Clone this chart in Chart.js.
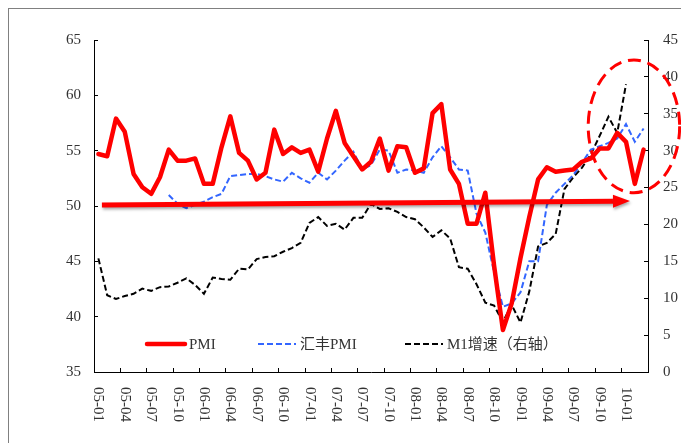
<!DOCTYPE html>
<html>
<head>
<meta charset="utf-8">
<script src="https://cdn.jsdelivr.net/npm/chart.js@4.4.0/dist/chart.umd.min.js"></script>
<style>
  html, body { margin: 0; padding: 0; background: #fff; overflow: hidden; }
  #wrap { position: relative; width: 681px; height: 443px; }
  #frame { position: absolute; left: 8px; top: 8px; width: 720px; height: 480px;
           border-top: 1px solid #808080; border-left: 1px solid #808080; pointer-events: none; }
</style>
</head>
<body>
<div id="wrap">
  <canvas id="chart" width="681" height="443"></canvas>
  <div id="frame"></div>
</div>
<script>
// monthly categories, 2005-01 .. 2010-03
var months = [
  "05-01","05-02","05-03","05-04","05-05","05-06","05-07","05-08","05-09","05-10","05-11","05-12",
  "06-01","06-02","06-03","06-04","06-05","06-06","06-07","06-08","06-09","06-10","06-11","06-12",
  "07-01","07-02","07-03","07-04","07-05","07-06","07-07","07-08","07-09","07-10","07-11","07-12",
  "08-01","08-02","08-03","08-04","08-05","08-06","08-07","08-08","08-09","08-10","08-11","08-12",
  "09-01","09-02","09-03","09-04","09-05","09-06","09-07","09-08","09-09","09-10","09-11","09-12",
  "10-01","10-02","10-03"
];

var pmi = [
  54.7,54.5,57.9,56.7,52.9,51.7,51.1,52.6,55.1,54.1,54.1,54.3,
  52.0,52.0,55.3,58.1,54.8,54.1,52.4,53.0,56.9,54.7,55.3,54.8,
  55.1,53.1,56.1,58.6,55.7,54.5,53.3,54.0,56.1,53.2,55.4,55.3,
  53.0,53.4,58.4,59.2,53.3,52.0,48.4,48.4,51.2,44.6,38.8,41.2,
  45.3,49.0,52.4,53.5,53.1,53.2,53.3,54.0,54.3,55.2,55.2,56.6,
  55.8,52.0,55.1
];

var hsbcPmi = [
  null,null,null,null,null,null,null,null,51.0,50.2,49.8,50.1,
  50.4,50.8,51.1,52.7,52.8,52.9,52.9,52.7,52.4,52.2,53.0,52.5,
  52.1,53.0,52.4,53.2,54.1,54.9,53.3,53.7,55.1,55.0,53.0,53.3,
  53.2,53.0,54.4,55.4,54.4,53.3,53.2,49.3,47.6,44.0,40.9,41.2,
  42.2,45.0,45.0,50.1,51.2,52.0,52.8,53.9,55.1,55.4,55.7,56.1,
  57.4,55.8,57.0
];

var m1Growth = [
  15.4,10.4,9.9,10.3,10.6,11.3,11.0,11.5,11.6,12.1,12.7,11.8,
  10.6,12.8,12.6,12.5,14.0,13.9,15.3,15.6,15.7,16.3,16.8,17.5,
  20.2,21.0,19.8,20.1,19.3,20.9,20.9,22.8,22.1,22.2,21.7,21.0,
  20.7,19.6,18.3,19.2,18.1,14.2,14.0,11.9,9.4,9.0,6.8,9.1,
  6.7,10.9,17.0,17.5,18.7,24.8,26.4,27.7,29.5,32.0,34.6,32.4,
  39.0,null,null
];

var leftRange = [35, 65];
var rightRange = [0, 45];
var tickStep = 5;

// annotations: [category index, left axis value]
var arrowFrom = [0.4, 50.1];
var arrowTo = [60.45, 50.45];
var ringCenter = [60.9, 57.2];
var ringRadius = [5.2, 6.0];

var fontFamily = "'Liberation Serif', 'Noto Sans CJK SC', serif";
var textColor = "#333";

var innerLegend = {
  id: "innerLegend",
  afterDatasetsDraw: function(chart) {
    var ctx = chart.ctx;
    var y = 344;
    var starts = [147, 258, 405];
    chart.data.datasets.forEach(function(ds, i) {
      var x = starts[i];
      ctx.save();
      ctx.strokeStyle = ds.borderColor;
      ctx.lineWidth = ds.borderWidth;
      ctx.setLineDash(ds.borderDash || []);
      ctx.lineCap = ds.borderDash ? "butt" : "round";
      ctx.beginPath();
      ctx.moveTo(x, y);
      ctx.lineTo(x + 38, y);
      ctx.stroke();
      ctx.setLineDash([]);
      ctx.fillStyle = textColor;
      ctx.font = "15px " + fontFamily;
      ctx.textBaseline = "middle";
      ctx.fillText(ds.label, x + 42, y + 1);
      ctx.restore();
    });
  }
};

var marks = {
  id: "marks",
  afterDatasetsDraw: function(chart) {
    var ctx = chart.ctx;
    var xs = chart.scales.x, ys = chart.scales.y;
    ctx.save();

    // trend arrow
    var x1 = xs.getPixelForValue(arrowFrom[0]), y1 = ys.getPixelForValue(arrowFrom[1]);
    var x2 = xs.getPixelForValue(arrowTo[0]), y2 = ys.getPixelForValue(arrowTo[1]);
    var ang = Math.atan2(y2 - y1, x2 - x1);
    var head = 17, half = 6.5;
    var bx = x2 - head * Math.cos(ang), by = y2 - head * Math.sin(ang);
    ctx.shadowColor = "rgba(0,0,0,0.35)";
    ctx.shadowBlur = 3;
    ctx.shadowOffsetX = 1;
    ctx.shadowOffsetY = 2;
    ctx.strokeStyle = "#ff0000";
    ctx.fillStyle = "#ff0000";
    ctx.lineWidth = 5;
    ctx.beginPath();
    ctx.moveTo(x1, y1);
    ctx.lineTo(bx, by);
    ctx.stroke();
    ctx.beginPath();
    ctx.moveTo(x2, y2);
    ctx.lineTo(bx + half * Math.sin(ang), by - half * Math.cos(ang));
    ctx.lineTo(bx - half * Math.sin(ang), by + half * Math.cos(ang));
    ctx.closePath();
    ctx.fill();

    // dashed ring
    ctx.shadowColor = "transparent";
    var cx = xs.getPixelForValue(ringCenter[0]);
    var cy = ys.getPixelForValue(ringCenter[1]);
    var rx = xs.getPixelForValue(ringCenter[0] + ringRadius[0]) - cx;
    var ry = cy - ys.getPixelForValue(ringCenter[1] + ringRadius[1]);
    ctx.lineWidth = 3;
    ctx.setLineDash([13, 7]);
    ctx.beginPath();
    ctx.ellipse(cx, cy, rx, ry, 0, 0, Math.PI * 2);
    ctx.stroke();
    ctx.restore();
  }
};

var tickFont = { family: fontFamily, size: 15 };

new Chart(document.getElementById("chart"), {
  type: "line",
  data: {
    labels: months,
    datasets: [
      { label: "PMI", data: pmi, yAxisID: "y", borderColor: "#ff0000", borderWidth: 4.5,
        borderJoinStyle: "round", borderCapStyle: "round", pointRadius: 0, tension: 0 },
      { label: "汇丰PMI", data: hsbcPmi, yAxisID: "y", borderColor: "#3366ff", borderWidth: 2,
        borderDash: [6, 3], pointRadius: 0, tension: 0 },
      { label: "M1增速（右轴）", data: m1Growth, yAxisID: "y1", borderColor: "#000000", borderWidth: 2,
        borderDash: [6, 3], pointRadius: 0, tension: 0 }
    ]
  },
  options: {
    responsive: false,
    animation: false,
    devicePixelRatio: 1,
    layout: { padding: { top: 40, left: 0, right: 0, bottom: 0 } },
    plugins: { legend: { display: false }, tooltip: { enabled: false } },
    scales: {
      x: {
        offset: true,
        grid: {
          display: true, drawOnChartArea: false, offset: true, tickLength: -4,
          tickColor: function(c) { return c.index % 3 === 0 ? "#000" : "rgba(0,0,0,0)"; }
        },
        border: { display: true, color: "#000", width: 1 },
        ticks: {
          autoSkip: false, minRotation: -90, maxRotation: -90, padding: 54,
          color: textColor, font: tickFont,
          callback: function(v, i) { return i % 3 === 0 ? this.getLabelForValue(v) : ""; }
        },
        afterFit: function(s) { s.height = 71; s.paddingLeft = 0; s.paddingRight = 0; }
      },
      y: {
        position: "left",
        min: leftRange[0], max: leftRange[1],
        grid: { drawOnChartArea: false, tickLength: -4, tickColor: "#000" },
        border: { display: true, color: "#000", width: 1 },
        ticks: { stepSize: tickStep, padding: 17, color: textColor, font: tickFont },
        afterFit: function(s) { s.width = 94; }
      },
      y1: {
        position: "right",
        min: rightRange[0], max: rightRange[1],
        grid: { drawOnChartArea: false, tickLength: -4, tickColor: "#000" },
        border: { display: true, color: "#000", width: 1 },
        ticks: { stepSize: tickStep, padding: 19, color: textColor, font: tickFont },
        afterFit: function(s) { s.width = 33; }
      }
    }
  },
  plugins: [innerLegend, marks]
});
</script>
</body>
</html>
